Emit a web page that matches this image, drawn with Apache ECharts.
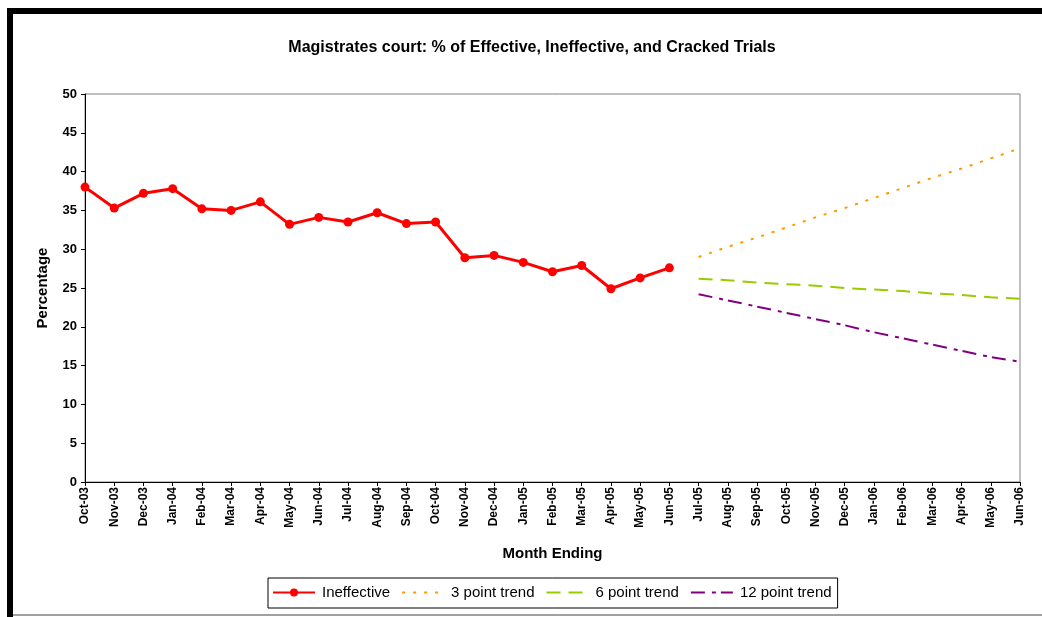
<!DOCTYPE html>
<html>
<head>
<meta charset="utf-8">
<script src="https://cdn.jsdelivr.net/npm/echarts@6/dist/echarts.min.js"></script>
<style>
    html, body { margin: 0; padding: 0; background: #fff; }
    #chart { width: 1042px; height: 617px; }
</style>
</head>
<body>
<div id="chart"></div>
<script>
    // months on the x axis
    const months = ['Oct-03','Nov-03','Dec-03','Jan-04','Feb-04','Mar-04','Apr-04','May-04','Jun-04','Jul-04',
        'Aug-04','Sep-04','Oct-04','Nov-04','Dec-04','Jan-05','Feb-05','Mar-05','Apr-05','May-05','Jun-05',
        'Jul-05','Aug-05','Sep-05','Oct-05','Nov-05','Dec-05','Jan-06','Feb-06','Mar-06','Apr-06','May-06','Jun-06'];

    // actual values, Oct-03 .. Jun-05
    const ineffective = [38.0, 35.3, 37.2, 37.8, 35.2, 35.0, 36.1, 33.2, 34.1, 33.5, 34.7, 33.3, 33.5,
        28.9, 29.2, 28.3, 27.1, 27.9, 24.9, 26.3, 27.6];

    // trend projections, Jul-05 .. Jun-06
    const trend3 = [29.0, 30.3, 31.5, 32.8, 34.1, 35.3, 36.6, 37.9, 39.2, 40.4, 41.7, 43.0];
    const trend6 = [26.2, 26.0, 25.7, 25.5, 25.3, 25.0, 24.8, 24.6, 24.3, 24.1, 23.8, 23.6];
    const trend12 = [24.2, 23.4, 22.6, 21.8, 21.0, 20.2, 19.3, 18.5, 17.7, 16.9, 16.1, 15.5];

    const font = '"Liberation Sans", Arial, sans-serif';

    // trends start after the last actual point
    function padTrend(arr) {
        let out = [];
        for (let i = 0; i < months.length - arr.length; i++) {
            out.push('-');
        }
        return out.concat(arr);
    }

    const chart = echarts.init(document.getElementById('chart'), null, { renderer: 'canvas' });

    const option = {
        backgroundColor: '#fff',
        animation: false,
        title: {
            text: 'Magistrates court: % of Effective, Ineffective, and Cracked Trials',
            left: 527,
            top: 35,
            textAlign: 'center',
            textStyle: { fontFamily: font, fontSize: 16, fontWeight: 'bold', color: '#000' }
        },
        legend: {
            left: 268,
            top: 578,
            itemGap: 11,
            itemWidth: 42,
            itemHeight: 10,
            padding: [7, 6, 8, 4],
            borderColor: '#000',
            borderWidth: 1,
            borderRadius: 0,
            textStyle: { fontFamily: font, fontSize: 15, color: '#000', padding: [0, 0, 0, 2] },
            data: [
                { name: 'Ineffective' },
                { name: '3 point trend', itemStyle: { opacity: 0 } },
                { name: '6 point trend', itemStyle: { opacity: 0 } },
                { name: '12 point trend', itemStyle: { opacity: 0 } }
            ]
        },
        grid: {
            left: 85,
            right: 22,
            top: 94,
            bottom: 135,
            show: true,
            borderColor: '#808080',
            borderWidth: 1
        },
        xAxis: {
            type: 'category',
            data: months,
            boundaryGap: false,
            name: 'Month Ending',
            nameLocation: 'middle',
            nameGap: 64,
            nameTextStyle: { fontFamily: font, fontSize: 15, fontWeight: 'bold', color: '#000' },
            axisLine: { lineStyle: { color: '#000', width: 1 } },
            axisTick: { alignWithLabel: true, length: 4, lineStyle: { color: '#000' } },
            axisLabel: {
                rotate: 90,
                interval: 0,
                margin: 5,
                fontFamily: font,
                fontSize: 12,
                fontWeight: 'bold',
                color: '#000'
            },
            splitLine: { show: false }
        },
        yAxis: {
            type: 'value',
            min: 0,
            max: 50,
            interval: 5,
            name: 'Percentage',
            nameLocation: 'middle',
            nameGap: 35,
            nameTextStyle: { fontFamily: font, fontSize: 15, fontWeight: 'bold', color: '#000' },
            axisLine: { show: true, lineStyle: { color: '#000', width: 1 } },
            axisTick: { show: true, length: 4, lineStyle: { color: '#000' } },
            axisLabel: { margin: 8, fontFamily: font, fontSize: 13, fontWeight: 'bold', color: '#000' },
            splitLine: { show: false }
        },
        series: [
            {
                name: 'Ineffective',
                type: 'line',
                data: ineffective,
                symbol: 'circle',
                symbolSize: 9,
                itemStyle: { color: '#ff0000' },
                lineStyle: { color: '#ff0000', width: 3 },
                z: 5
            },
            {
                name: '3 point trend',
                type: 'line',
                data: padTrend(trend3),
                showSymbol: false,
                itemStyle: { color: '#ff9900' },
                lineStyle: { color: '#ff9900', width: 2, type: [3, 8] }
            },
            {
                name: '6 point trend',
                type: 'line',
                data: padTrend(trend6),
                showSymbol: false,
                itemStyle: { color: '#99cc00' },
                lineStyle: { color: '#99cc00', width: 2, type: [14, 8] }
            },
            {
                name: '12 point trend',
                type: 'line',
                data: padTrend(trend12),
                showSymbol: false,
                itemStyle: { color: '#800080' },
                lineStyle: { color: '#800080', width: 2, type: [14, 7, 4, 5] }
            }
        ],
        graphic: [
            // outer frame bits seen in the picture
            { type: 'rect', shape: { x: 7, y: 8, width: 1035, height: 6 }, style: { fill: '#000' } },
            { type: 'rect', shape: { x: 7, y: 8, width: 6, height: 609 }, style: { fill: '#000' } },
            { type: 'rect', shape: { x: 13, y: 614, width: 1029, height: 2 }, style: { fill: '#a0a0a0' } }
        ]
    };

    chart.setOption(option);
</script>
</body>
</html>
